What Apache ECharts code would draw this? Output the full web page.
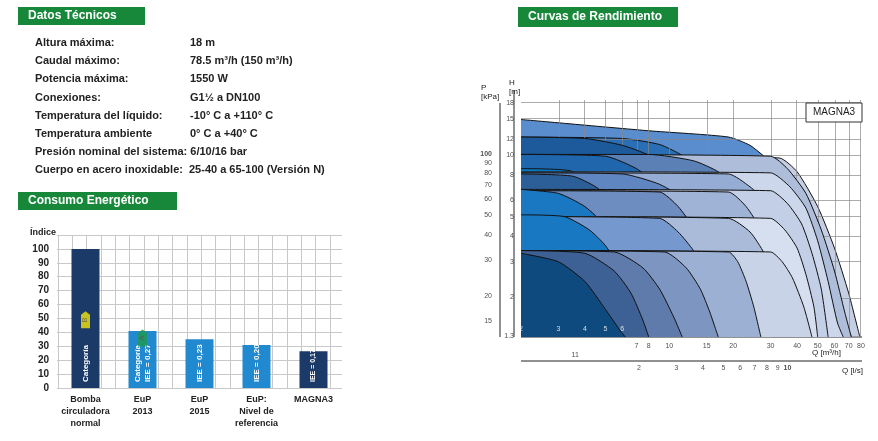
<!DOCTYPE html>
<html><head><meta charset="utf-8">
<script src="https://cdn.jsdelivr.net/npm/echarts@6/dist/echarts.min.js"></script>
<style>html,body{margin:0;padding:0;background:#fff}#c{width:878px;height:441px}</style>
</head><body><div id="c"></div>
<script>
// ---- data ----
var barCategories = ["Bomba\ncirculadora\nnormal","EuP\n2013","EuP\n2015","EuP:\nNivel de\nreferencia","MAGNA3"];
var barValues = [100, 41, 35, 31, 26.5];
var barLabels = ["Categoría","Categoría\nIEE = 0,27","IEE = 0,23","IEE = 0,20","IEE = 0,17"];
var specLabels = ["Altura máxima:","Caudal máximo:","Potencia máxima:","Conexiones:","Temperatura del líquido:","Temperatura ambiente","Presión nominal del sistema:","Cuerpo en acero inoxidable:"];
var specValues = ["18 m","78.5 m³/h (150 m³/h)","1550 W","G1½ a DN100","-10° C a +110° C","0° C a +40° C","6/10/16 bar","25-40 a 65-100 (Versión N)"];
var hTicks = [1.3,2,3,4,5,6,8,10,12,15,18];
var kpaTicks = [15,20,30,40,50,60,70,80,90,100];
var qTicks = [2,3,4,5,6,7,8,10,15,20,30,40,50,60,70,80];
var lsTicks = [1,2,3,4,5,6,7,8,9,10];
var curves = [
 {name:"100-120",color:"#c5cfe3",pts:[[2,10.2],[33,9.7],[40,8.3],[50,5.6],[60,3.5],[70,2.1],[79,1.28]]},
 {name:"65-150",color:"#5a8dcd",pts:[[2,15],[8,13.2],[19,12.3],[24,11.2],[28,9.9],[36,8.5],[44,6.4],[52,4.2],[60,2.6],[67,1.6],[72,1.28]]},
 {name:"40-150",color:"#2a6fb6",pts:[[2,12.3],[6,12.1],[9,11.3],[11.5,10],[15,8.3],[19,6.6],[22,5],[25,3.4],[28,2.1],[30,1.28]]},
 {name:"32-120",color:"#1d5a9c",pts:[[2,12.3],[4,12.1],[6,11.2],[8,10],[10,8.3],[12,6.4],[14,4.6],[15.5,3.2],[17,1.9],[18,1.28]]},
 {name:"65-120",color:"#aebdda",pts:[[2,10.1],[30,9.9],[36,8.6],[44,6.5],[52,4.3],[60,2.7],[67,1.7],[72,1.28]]},
 {name:"40-120",color:"#5b80b6",pts:[[2,10.1],[8,10.1],[13,9.4],[17,8.3],[21,6.8],[24,5],[27,3.4],[30,2],[32,1.28]]},
 {name:"32-100",color:"#1f66ad",pts:[[2,10.1],[5,9.9],[7,8.6],[9,7],[10.5,5.3],[12,3.6],[13,2.3],[14,1.28]]},
 {name:"25-80",color:"#0a78c4",pts:[[2,8.6],[3.4,8.4],[4.6,7],[5.6,5.6],[6.5,4],[7.2,2.6],[7.8,1.28]]},
 {name:"100-100",color:"#ccd7eb",pts:[[2,8.3],[30,8.2],[37,7],[44,5.5],[50,3.8],[56,2.4],[62,1.5],[66,1.28]]},
 {name:"65-100",color:"#95acd4",pts:[[2,8.2],[19,8.1],[24,7],[28,6],[32,4.5],[36,3],[40,1.8],[42,1.28]]},
 {name:"40-80",color:"#5f86c0",pts:[[2,8.2],[6,8.1],[9,7.2],[12,6],[15,4.6],[17.5,3.2],[20,2],[21.5,1.28]]},
 {name:"32-80",color:"#2c5f98",pts:[[2,8.1],[3.5,7.9],[4.5,7],[5.5,5.8],[6.5,4.4],[7.5,3],[8.5,1.8],[9,1.28]]},
 {name:"100-60",color:"#c3cfe6",pts:[[2,6.8],[30,6.7],[36,5.8],[42,4.6],[47,3.3],[52,2.2],[56,1.28]]},
 {name:"65-60",color:"#9fb3d7",pts:[[2,6.7],[19,6.6],[23,5.6],[27,4.3],[30,3.1],[33,2],[35,1.28]]},
 {name:"50-60",color:"#6d8dc0",pts:[[2,6.7],[9,6.6],[11,5.6],[13,4.4],[15,3.2],[17,2],[18,1.28]]},
 {name:"25-60",color:"#1a78c2",pts:[[2,6.8],[3,6.5],[4,5.6],[5,4.5],[6,3.3],[6.8,2.2],[7.3,1.28]]},
 {name:"100-40",color:"#d6dff0",pts:[[2,5.0],[30,4.9],[35,4.3],[40,3.5],[44,2.6],[48,1.8],[50,1.28]]},
 {name:"80-40",color:"#a9bbd9",pts:[[2,5.0],[19,4.9],[24,4.2],[28,3.3],[32,2.4],[36,1.7],[39,1.28]]},
 {name:"50-40",color:"#7598cf",pts:[[2,5.0],[9,4.9],[11,4.2],[13,3.4],[15,2.6],[17,1.8],[18.5,1.28]]},
 {name:"25-50",color:"#1878c2",pts:[[2,5.1],[3.2,5],[4.2,4.3],[5,3.6],[5.8,2.8],[6.5,2],[7,1.28]]},
 {name:"100-30",color:"#c8d3e8",pts:[[2,3.4],[30,3.35],[34,3],[38,2.5],[43,1.8],[47,1.28]]},
 {name:"65-30",color:"#9cb0d3",pts:[[2,3.4],[19,3.35],[21,3],[23,2.4],[25,1.8],[27,1.28]]},
 {name:"50-30",color:"#7d95c1",pts:[[2,3.4],[9.5,3.35],[12,2.8],[14,2.2],[15.5,1.7],[17,1.28]]},
 {name:"40-30",color:"#5e7bab",pts:[[2,3.4],[5.5,3.35],[7.5,2.8],[9,2.2],[10.5,1.6],[11.5,1.28]]},
 {name:"32-30",color:"#3d6194",pts:[[2,3.4],[4,3.3],[5.5,2.7],[6.6,2.1],[7.5,1.55],[8,1.28]]},
 {name:"25-30",color:"#0e4a7e",pts:[[2,3.3],[3,3],[4,2.4],[5,1.75],[5.8,1.4],[6.2,1.28]]}
];
// ---- chart ----
var L = Math.log10;
var FF = "'Liberation Sans',Arial,sans-serif";
var chart = echarts.init(document.getElementById('c'));
var xMin=L(2), xMax=L(80), yMin=L(1.28), yMax=L(18.7);
var graphics = [];
function header(x,y,w,h,t){graphics.push({type:'rect',shape:{x:x,y:y,width:w,height:h},style:{fill:'#17883a'}});
 graphics.push({type:'text',x:x+10,y:y+h/2,style:{text:t,fill:'#fff',font:'bold 12px '+FF,verticalAlign:'middle'}});}
header(18,7,127,18,"Datos Técnicos");
header(18,192,159,18,"Consumo Energético");
header(518,7,160,20,"Curvas de Rendimiento");
specLabels.forEach(function(t,i){
 var y=43+i*18.2;
 if(i==6){
  graphics.push({type:'text',x:35,y:y,style:{text:t+' '+specValues[i],fill:'#222',font:'bold 11px '+FF,verticalAlign:'middle'}});
 } else {
  graphics.push({type:'text',x:35,y:y,style:{text:t,fill:'#222',font:'bold 11px '+FF,verticalAlign:'middle'}});
  graphics.push({type:'text',x:i==7?189:190,y:y,style:{text:specValues[i],fill:'#222',font:'bold 11px '+FF,verticalAlign:'middle'}});
 }
});
graphics.push({type:'text',x:30,y:233,style:{text:'Índice',fill:'#222',font:'bold 9px '+FF,verticalAlign:'middle'}});
graphics.push({type:'rect',shape:{x:806,y:103,width:56,height:19},style:{fill:'#fff',stroke:'#333',lineWidth:1},z:100});
graphics.push({type:'text',x:834,y:112.5,style:{text:'MAGNA3',fill:'#222',font:'10px '+FF,align:'center',verticalAlign:'middle'},z:101});
graphics.push({type:'text',x:481,y:92,style:{text:'P\n[kPa]',fill:'#222',font:'8px '+FF,verticalAlign:'middle',lineHeight:9}});
graphics.push({type:'text',x:509,y:87,style:{text:'H\n[m]',fill:'#222',font:'8px '+FF,verticalAlign:'middle',lineHeight:9}});
graphics.push({type:'text',x:812,y:353,style:{text:'Q [m³/h]',fill:'#222',font:'8px '+FF,verticalAlign:'middle'}});
graphics.push({type:'text',x:842,y:371,style:{text:'Q [l/s]',fill:'#222',font:'8px '+FF,verticalAlign:'middle'}});
graphics.push({type:'line',shape:{x1:521,y1:337,x2:862,y2:337},style:{stroke:'#222',lineWidth:1}});
graphics.push({type:'line',shape:{x1:521,y1:361,x2:862,y2:361},style:{stroke:'#222',lineWidth:1}});
graphics.push({type:'line',shape:{x1:500,y1:103,x2:500,y2:337},style:{stroke:'#222',lineWidth:1}});
graphics.push({type:'line',shape:{x1:514,y1:90,x2:514,y2:337},style:{stroke:'#222',lineWidth:1}});

var perfSeries = [];
perfSeries.push({type:'line',xAxisIndex:2,yAxisIndex:2,data:[],silent:true,z:1,
 markLine:{silent:true,symbol:'none',label:{show:false},lineStyle:{color:'#888',width:0.7,type:'solid'},
  data: qTicks.map(function(q){return {xAxis:L(q)};}).concat(hTicks.map(function(h){return {yAxis:L(h)};}))}});
curves.forEach(function(c,i){
 perfSeries.push({type:'line',name:c.name,xAxisIndex:2,yAxisIndex:2,symbol:'none',smooth:0.2,z:2+i,
  data:c.pts.map(function(p){return [L(p[0]),L(p[1])];}),
  lineStyle:{color:'#111',width:1},areaStyle:{color:c.color,opacity:1,origin:'start'}});
});
function tickScatter(vals,fn,lab){perfSeries.push({type:'scatter',xAxisIndex:2,yAxisIndex:2,symbolSize:0,clip:false,silent:true,z:50,
 data:vals.map(fn),label:Object.assign({show:true,color:'#222',fontSize:7,fontFamily:FF},lab)});}
tickScatter(hTicks,function(h){return {value:[xMin,L(h)],label:{formatter:String(h)}};},{position:'left',offset:[-2,0]});
tickScatter(kpaTicks,function(k){return {value:[xMin,L(k/9.81)],label:{formatter:String(k),fontWeight:k==100?'bold':'normal'}};},{position:'left',offset:[-24,0]});
tickScatter(qTicks,function(q){return {value:[L(q),yMin],label:{formatter:String(q),offset:q<7?[0,-8]:[0,9],color:q<7?'#fff':'#222'}};},{position:'inside'});
tickScatter(lsTicks,function(s){return {value:[L(s*3.6),yMin],label:{formatter:s==1?'11':String(s),offset:s==1?[0,18]:[0,31],fontWeight:s==10?'bold':'normal'}};},{position:'inside'});

var option = {
 animation:false,
 textStyle:{fontFamily:FF},
 graphic:graphics,
 grid:[
  {left:57,top:235,width:285,bottom:53},
  {left:58,top:235,width:272,bottom:53},
  {left:521,top:100,right:17,bottom:104}
 ],
 xAxis:[
  {type:'category',gridIndex:0,data:barCategories,axisLine:{show:false},axisTick:{show:false},
   axisLabel:{interval:0,color:'#222',fontSize:9,fontWeight:'bold',lineHeight:12,margin:6,fontFamily:FF}},
  {type:'value',gridIndex:1,min:0,max:19,interval:1,axisLabel:{show:false},axisLine:{show:false},axisTick:{show:false},
   splitLine:{show:true,lineStyle:{color:'#c8c8c8',width:1}}},
  {type:'value',gridIndex:2,min:xMin,max:xMax,show:false,splitLine:{show:false}}
 ],
 yAxis:[
  {type:'value',gridIndex:0,min:0,max:110,interval:10,axisLine:{show:false},axisTick:{show:false},
   axisLabel:{color:'#222',fontSize:10,fontWeight:'bold',fontFamily:FF,formatter:function(v){return v>100?'':v;}},
   splitLine:{lineStyle:{color:'#c8c8c8',width:1}}},
  {type:'value',gridIndex:1,min:0,max:110,show:false,splitLine:{show:false}},
  {type:'value',gridIndex:2,min:yMin,max:yMax,show:false,splitLine:{show:false}}
 ],
 series:[
  {type:'bar',xAxisIndex:0,yAxisIndex:0,barWidth:28,z:3,
   data:barValues.map(function(v,i){return {value:v,itemStyle:{color:(i==0||i==4)?'#1b3a68':'#2089d0'},
     label:{formatter:barLabels[i],fontSize:i==4?7:8}};}),
   label:{show:true,rotate:90,position:'insideBottom',align:'left',verticalAlign:'middle',distance:6,color:'#fff',fontWeight:'bold',fontFamily:FF,lineHeight:10}},
  {type:'scatter',xAxisIndex:0,yAxisIndex:0,z:5,symbol:'path://M0,4 L5,0 L10,4 L10,20 L0,20 Z',symbolSize:[9,17],
   data:[{value:[0,49],itemStyle:{color:'#f4e60c'},label:{formatter:'B'}},{value:[1,36],itemStyle:{color:'#1f9a4c'},label:{formatter:'A'}}],
   label:{show:true,rotate:90,color:'#555',fontSize:7,position:'inside'}}
 ].concat(perfSeries)
};
chart.setOption(option);
</script></body></html>
